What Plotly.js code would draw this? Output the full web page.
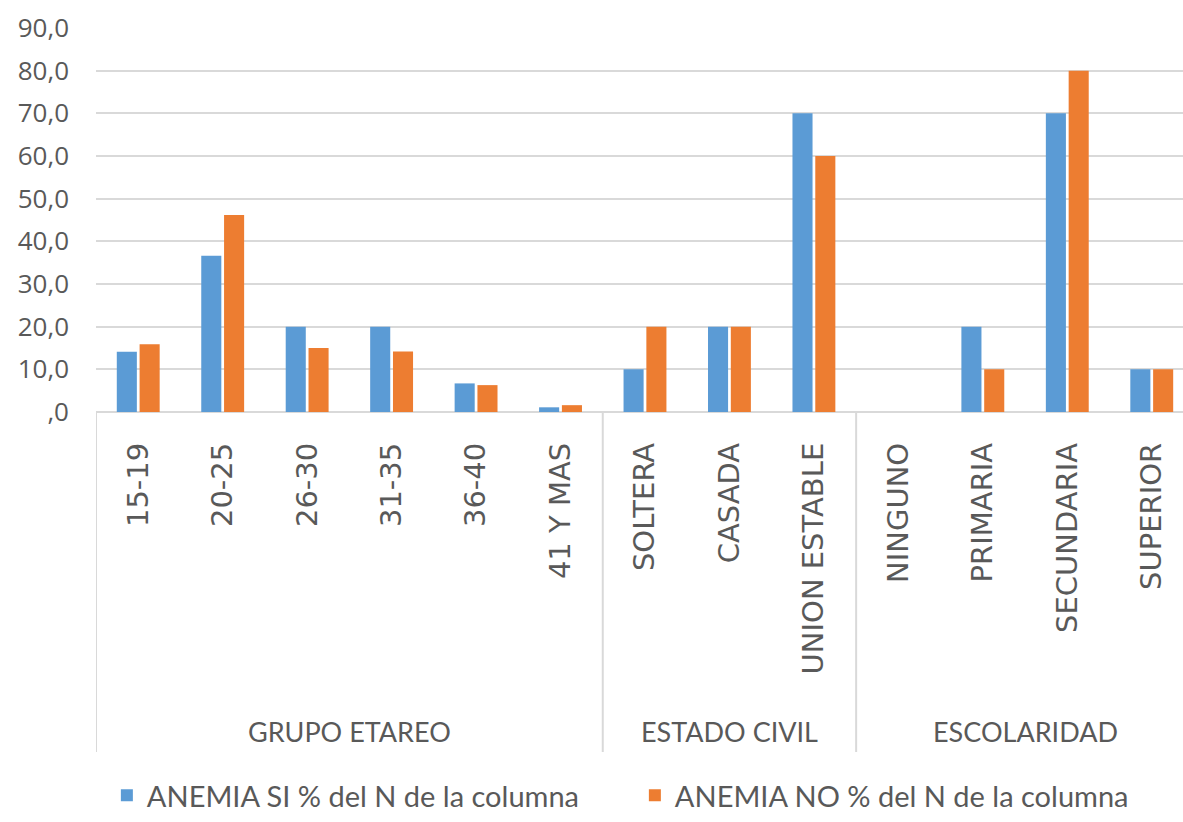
<!DOCTYPE html>
<html>
<head>
<meta charset="utf-8">
<script src="https://cdn.plot.ly/plotly-3.0.1.min.js"></script>
<style>html,body{margin:0;padding:0;background:#fff;}#chart{width:1183px;height:822px;}</style>
</head>
<body>
<div id="chart"></div>
<script>
// Data
const categories = ["15-19","20-25","26-30","31-35","36-40","41 Y MAS",
                    "SOLTERA","CASADA","UNION ESTABLE",
                    "NINGUNO","PRIMARIA","SECUNDARIA","SUPERIOR"];
const groupNames = ["GRUPO ETAREO","ESTADO CIVIL","ESCOLARIDAD"];
const groupSizes = [6, 3, 4];
const anemiaSi = [14.1, 36.6, 20.0, 20.0, 6.7, 1.1, 10.0, 20.0, 70.0, 0.0, 20.0, 70.0, 10.0];
const anemiaNo = [15.9, 46.2, 15.0, 14.2, 6.3, 1.6, 20.0, 20.0, 60.0, 0.0, 10.0, 80.0, 10.0];
const seriesNames = ["ANEMIA SI % del N de la columna", "ANEMIA NO % del N de la columna"];
const yTickVals = [0,10,20,30,40,50,60,70,80,90];
const yTickText = [",0","10,0","20,0","30,0","40,0","50,0","60,0","70,0","80,0","90,0"];

const gray = "#595959";
const traces = [
  {type:"bar", name:seriesNames[0], x:categories.map((c,i)=>i), y:anemiaSi,
   marker:{color:"#5B9BD5"}, hoverinfo:"skip"},
  {type:"bar", name:seriesNames[1], x:categories.map((c,i)=>i), y:anemiaNo,
   marker:{color:"#ED7D31"}, hoverinfo:"skip"}
];

const annotations = [];
const shapes = [];
let start = 0;
const plotH = 384;
const divBottom = -(752-412)/plotH;
groupNames.forEach((g, k) => {
  const n = groupSizes[k];
  annotations.push({text:g, xref:"x", yref:"paper", x:start + (n-1)/2, y:-(731-412)/plotH,
    xanchor:"center", yanchor:"middle", showarrow:false,
    font:{family:"Lato", size:27, color:gray}});
  shapes.push({type:"line", xref:"x", yref:"paper", x0:start-0.5, x1:start-0.5, y0:0, y1:divBottom,
    line:{color:"#d9d9d9", width:2}});
  start += n;
});
shapes.push({type:"line", xref:"x", yref:"paper", x0:start-0.5, x1:start-0.5, y0:0, y1:divBottom,
    line:{color:"#d9d9d9", width:2}});

const layout = {
  width:1183, height:822,
  margin:{l:96, r:0, t:28, b:410},
  paper_bgcolor:"#fff", plot_bgcolor:"#fff",
  barmode:"group", bargap:0.46, bargroupgap:0.12,
  showlegend:true,
  legend:{orientation:"h", x:0.010, xanchor:"left", y:-(821-412)/plotH, yanchor:"bottom",
    font:{family:"Lato", size:29, color:gray}, entrywidth:483,
    itemclick:false},
  xaxis:{type:"linear", range:[-0.5, 12.37], tickmode:"array", automargin:false,
    tickvals:categories.map((c,i)=>i), ticktext:categories, tickangle:-90,
    ticks:"", ticklabelstandoff:24, showgrid:false, zeroline:false,
    showline:false,
    tickfont:{family:"DejaVu Sans", size:29, color:gray}},
  yaxis:{range:[0,90], tickmode:"array", tickvals:yTickVals, ticktext:yTickText, automargin:false,
    showgrid:true, gridcolor:"#d9d9d9", gridwidth:2, zeroline:true, zerolinecolor:"#d9d9d9",
    zerolinewidth:2, showline:false, ticks:"", ticklabelstandoff:26,
    tickfont:{family:"Open Sans", size:26, color:gray}},
  annotations:annotations,
  shapes:shapes
};
Plotly.newPlot("chart", traces, layout, {staticPlot:true, displayModeBar:false});
</script>
</body>
</html>
